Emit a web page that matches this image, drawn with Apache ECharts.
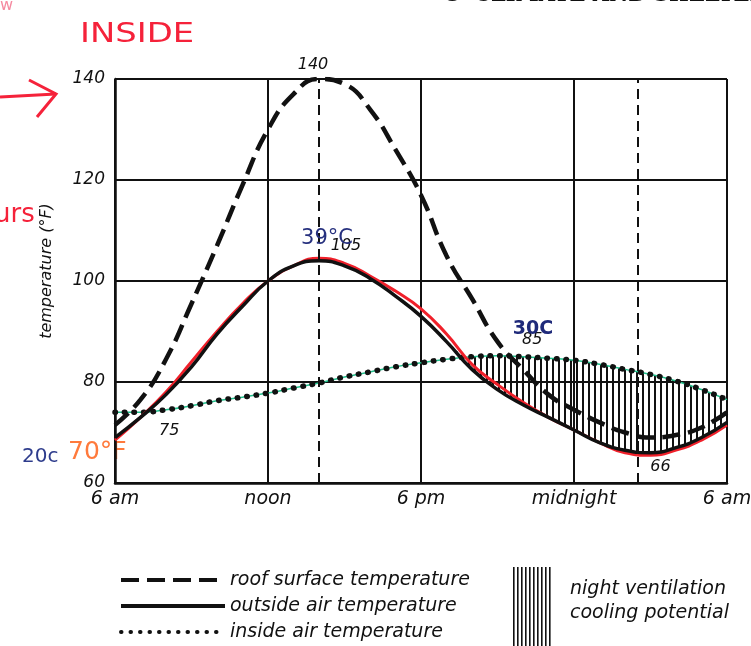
<!DOCTYPE html>
<html>
<head>
<meta charset="utf-8">
<script src="https://cdn.jsdelivr.net/npm/echarts@6/dist/echarts.min.js"></script>
<style>
  html, body { margin: 0; padding: 0; background: #fff; }
  #chart { width: 751px; height: 646px; }
</style>
</head>
<body>
<div id="chart"></div>
<script>
// hours after 6 am
var hours = [0, 1, 2, 3, 4, 5, 6, 7, 8, 9, 10, 11, 12, 13, 14, 15, 16, 17, 18, 19, 20, 21, 22, 23, 24];
var roofTemp = [71.5, 76.5, 84.5, 95.5, 107, 119, 130, 137, 140, 139, 134, 126, 117, 105, 96.5, 88, 82.5, 77.5, 74.5, 72, 70, 69, 69.5, 71, 74];
var outsideTemp = [69, 73, 77.5, 83, 89.5, 95, 100, 103, 104, 103, 100.5, 97, 93, 88, 82.5, 78.5, 75.5, 73, 70.5, 68, 66.5, 66, 67, 69, 72];
var outsideRed = [68.5, 73, 78, 84, 90, 95.5, 100, 103, 104.5, 103.5, 101, 98, 94.5, 89.5, 83.5, 79.5, 76, 73, 70.5, 68, 66, 65.5, 66.5, 68.5, 71.5];
var insideTemp = [74, 74, 74.5, 75.3, 76.3, 77, 77.8, 78.8, 79.8, 81, 82, 83, 83.8, 84.5, 85, 85.2, 85, 84.7, 84.3, 83.5, 82.5, 81.5, 80.2, 78.5, 76.5];
var hourLabels = { 0: "6 am", 6: "noon", 12: "6 pm", 18: "midnight", 24: "6 am" };
var dashedHours = [8, 20.5];
var hatchFrom = 13;
// value labels written on the curves
var roofPeak = [8, 140];
var outsidePeak = [8, 104];
var outsideMin = [21, 66];
var insidePeak = [15.5, 85.2];
var crossLabel = [1.5, 74];

var chart = echarts.init(document.getElementById("chart"));

function pairs(arr) {
  return hours.map(function (h, i) { return [h, arr[i]]; });
}

// vertical hatching pattern
function hatch(step, w) {
  var c = document.createElement("canvas");
  c.width = step;
  c.height = 4;
  var ctx = c.getContext("2d");
  ctx.fillStyle = "#111";
  ctx.fillRect(0, 0, w, 4);
  return c;
}

// [temperature, hour] so the stack is on the temperature dimension
var hatchBase = [];
var hatchDiff = [];
hours.forEach(function (h, i) {
  if (h >= hatchFrom) {
    hatchBase.push([outsideTemp[i], h]);
    hatchDiff.push([Math.max(0, insideTemp[i] - outsideTemp[i]), h]);
  }
});

var font = "DejaVu Sans";
var lbl = { color: "#111", fontFamily: font, fontStyle: "italic", fontSize: 16 };

var option = {
  animation: false,
  backgroundColor: "#fff",
  grid: { left: 115, right: 24, top: 79, bottom: 163, outerBoundsMode: "none" },
  legend: {
    orient: "vertical",
    left: 119,
    top: 570,
    height: 80,
    padding: 0,
    itemWidth: 104,
    itemHeight: 14,
    itemGap: 6,
    data: ["roof surface temperature", "outside air temperature", "inside air temperature"],
    lineStyle: { width: 4 },
    itemStyle: { opacity: 0 },
    textStyle: { color: "#111", fontFamily: font, fontStyle: "italic", fontSize: 19, lineHeight: 20 },
  },
  xAxis: {
    type: "value",
    min: 0,
    max: 24,
    interval: 6,
    axisLine: { show: true, lineStyle: { color: "#111", width: 2.5 } },
    axisTick: { show: false },
    splitLine: { show: true, lineStyle: { color: "#111", width: 2 } },
    axisLabel: {
      margin: 7,
      color: "#111",
      fontFamily: font,
      fontStyle: "italic",
      fontSize: 19,
      formatter: function (v) { return hourLabels[v] || ""; },
    },
  },
  yAxis: {
    type: "value",
    min: 60,
    max: 140,
    interval: 20,
    name: "temperature (°F)",
    nameLocation: "middle",
    nameGap: 60,
    nameTextStyle: { color: "#111", fontFamily: font, fontStyle: "italic", fontSize: 16, padding: [0, 0, 0, 20] },
    axisLine: { show: true, lineStyle: { color: "#111", width: 2.5 } },
    axisTick: { show: false },
    splitLine: { show: true, lineStyle: { color: "#111", width: 2 } },
    axisLabel: { margin: 10, color: "#111", fontFamily: font, fontStyle: "italic", fontSize: 17 },
  },
  series: [
    {
      name: "hatchBase",
      type: "line",
      stack: "cool",
      smooth: true,
      symbol: "none",
      encode: { x: 1, y: 0 },
      lineStyle: { width: 0, opacity: 0 },
      data: hatchBase,
      z: 1,
    },
    {
      name: "night ventilation cooling potential",
      type: "line",
      stack: "cool",
      smooth: true,
      symbol: "none",
      encode: { x: 1, y: 0 },
      lineStyle: { width: 0, opacity: 0 },
      areaStyle: { color: { image: hatch(6, 2), repeat: "repeat" }, opacity: 1 },
      data: hatchDiff,
      z: 1,
    },
    {
      name: "inside green",
      type: "line",
      smooth: true,
      symbol: "none",
      lineStyle: { color: "#22c08c", width: 1.5 },
      data: pairs(insideTemp),
      z: 2,
    },
    {
      name: "inside air temperature",
      type: "line",
      smooth: true,
      symbol: "none",
      itemStyle: { color: "#111" },
      lineStyle: { color: "#111", width: 5.5, type: [0.5, 9], cap: "round" },
      data: pairs(insideTemp),
      z: 3,
      markPoint: {
        symbolSize: 0,
        label: lbl,
        data: [
          { coord: insidePeak, value: 85, label: { show: true, offset: [22, -16], formatter: "85" } },
        ],
      },
    },
    {
      name: "outside red",
      type: "line",
      smooth: true,
      symbol: "none",
      lineStyle: { color: "#f0202a", width: 3 },
      data: pairs(outsideRed),
      z: 3,
    },
    {
      name: "outside air temperature",
      type: "line",
      smooth: true,
      symbol: "none",
      itemStyle: { color: "#111" },
      lineStyle: { color: "#111", width: 3.5 },
      data: pairs(outsideTemp),
      z: 4,
      markPoint: {
        symbolSize: 0,
        label: lbl,
        data: [
          { coord: outsidePeak, value: 105, label: { show: true, offset: [27, -15], formatter: "105" } },
          { coord: outsideMin, value: 66, label: { show: true, offset: [10, 14], formatter: "66" } },
          { coord: crossLabel, value: 75, label: { show: true, offset: [16, 19], formatter: "75" } },
        ],
      },
    },
    {
      name: "roof surface temperature",
      type: "line",
      smooth: true,
      symbol: "none",
      itemStyle: { color: "#111" },
      lineStyle: { color: "#111", width: 4.5, type: [18, 8] },
      data: pairs(roofTemp),
      z: 5,
      markPoint: {
        symbolSize: 0,
        label: lbl,
        data: [
          { coord: roofPeak, value: 140, label: { show: true, offset: [-6, -14], formatter: "140" } },
          { coord: [8, 108.5], value: 39, label: { show: true, offset: [8, 0], formatter: "39°C", color: "#26307e", fontStyle: "normal", fontSize: 21 } },
          { coord: [15.8, 90.5], value: 30, label: { show: true, offset: [15, 0], formatter: "30C", color: "#1f2a7a", fontStyle: "normal", fontWeight: "bold", fontSize: 19 } },
        ],
      },
      markLine: {
        silent: true,
        symbol: "none",
        label: { show: false },
        lineStyle: { color: "#111", width: 2, type: [10, 6] },
        data: dashedHours.map(function (h) { return { xAxis: h }; }),
      },
    },
  ],
  graphic: [
    // hatch legend box
    { type: "rect", left: 513, top: 567, shape: { width: 40, height: 79 }, style: { fill: { image: hatch(4, 1.6), repeat: "repeat" } } },
    { type: "text", left: 570, top: 580, style: { text: "night ventilation", fill: "#111", font: "italic 19px DejaVu Sans" } },
    { type: "text", left: 570, top: 604, style: { text: "cooling potential", fill: "#111", font: "italic 19px DejaVu Sans" } },
    // cut-off page header
    { type: "text", left: 445, top: -15, style: { text: "8  CLIMATE AND SHELTER", fill: "#111", font: "bold 21px DejaVu Serif" } },
    // handwritten notes
    { type: "text", x: 80, y: 22, scaleX: 1.3, style: { text: "INSIDE", fill: "#f5223a", font: "26px DejaVu Sans" } },
    { type: "text", left: -6, top: 202, style: { text: "urs", fill: "#f5223a", font: "26px DejaVu Sans" } },
    { type: "text", left: 0, top: -2, style: { text: "w", fill: "#f58aa0", font: "16px DejaVu Sans" } },
    { type: "polyline", shape: { points: [[0, 97], [56, 94]] }, style: { stroke: "#f5223a", lineWidth: 3 } },
    { type: "polyline", shape: { points: [[29, 80], [56, 94], [37, 117]] }, style: { stroke: "#f5223a", lineWidth: 3, fill: null } },
    { type: "text", left: 22, top: 447, style: { text: "20c", fill: "#2e3c8c", font: "20px DejaVu Sans" } },
    { type: "text", left: 68, top: 440, style: { text: "70°F", fill: "#ff7a3c", font: "25px DejaVu Sans" } },
  ],
};

chart.setOption(option);
</script>
</body>
</html>
